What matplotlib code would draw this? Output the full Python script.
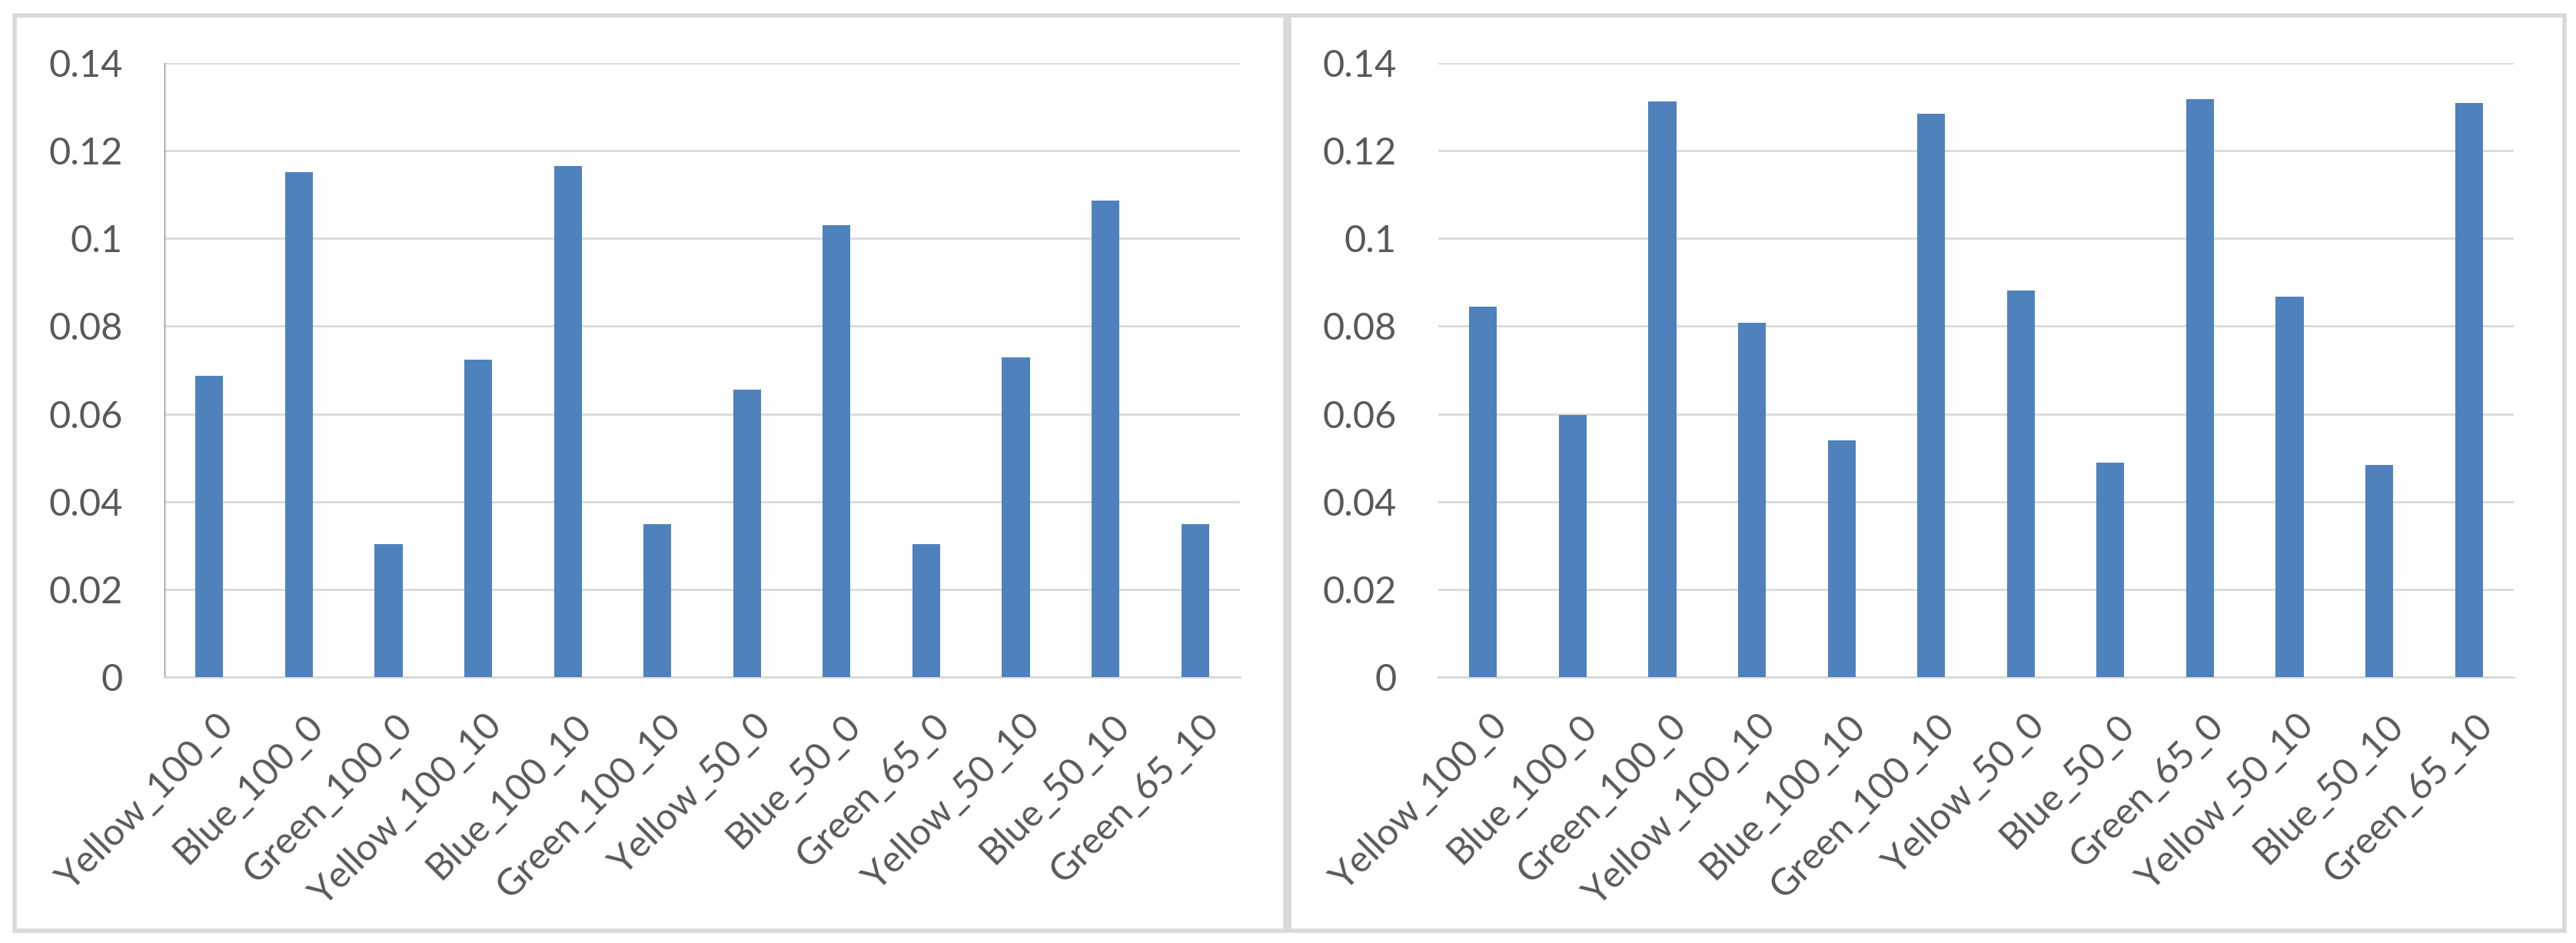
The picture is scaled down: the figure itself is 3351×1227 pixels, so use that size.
import matplotlib
matplotlib.use("Agg")
import matplotlib.pyplot as plt
import matplotlib.transforms as mtransforms
from matplotlib.patches import Rectangle

categories_left = ["Yellow_100_0", "Blue_100_0", "Green_100_0", "Yellow_100_10",
                   "Blue_100_10", "Green_100_10", "Yellow_50_0", "Blue_50_0",
                   "Green_65_0", "Yellow_50_10", "Blue_50_10", "Green_65_10"]
values_left = [0.0687, 0.1151, 0.0303, 0.0724, 0.1165, 0.0349,
               0.0655, 0.1031, 0.0303, 0.0729, 0.1086, 0.0349]

categories_right = ["Yellow_100_0", "Blue_100_0", "Green_100_0", "Yellow_100_10",
                    "Blue_100_10", "Green_100_10", "Yellow_50_0", "Blue_50_0",
                    "Green_65_0", "Yellow_50_10", "Blue_50_10", "Green_65_10"]
values_right = [0.0845, 0.0598, 0.1313, 0.0808, 0.0540, 0.1285,
                0.0882, 0.0488, 0.1318, 0.0868, 0.0484, 0.1309]

y_ticks = [0, 0.02, 0.04, 0.06, 0.08, 0.1, 0.12, 0.14]
y_tick_labels = ["0", "0.02", "0.04", "0.06", "0.08", "0.1", "0.12", "0.14"]

W, H = 3351, 1227
DPI = 100
plt.rcParams['font.family'] = ['Lato', 'DejaVu Sans']
TEXT = "#595959"
GRID = "#D9D9D9"
BAR = "#4F81BD"

fig = plt.figure(figsize=(W / DPI, H / DPI), dpi=DPI)

# panel borders
for (x0, x1) in [(19, 1672), (1677, 3336)]:
    fig.patches.append(Rectangle((x0 / W, 1 - 1211 / H), (x1 - x0) / W, (1211 - 20) / H,
                                 transform=fig.transFigure, fill=False,
                                 edgecolor=GRID, linewidth=4.0, zorder=0))

def make_panel(x_left, x_right, cats, vals, show_yaxis):
    ax = fig.add_axes([x_left / W, 1 - 881 / H, (x_right - x_left) / W, (881 - 82) / H])
    x = list(range(len(cats)))
    ax.bar(x, vals, width=0.31, color=BAR, zorder=3)
    ax.set_xlim(-0.5, len(cats) - 0.5)
    ax.set_ylim(0, 0.14)
    ax.set_yticks(y_ticks)
    ax.set_yticklabels(y_tick_labels)
    ax.yaxis.grid(True, color=GRID, linewidth=2.0, zorder=0)
    ax.set_axisbelow(True)
    for s in ["top", "right"]:
        ax.spines[s].set_visible(False)
    ax.spines["bottom"].set_color(GRID)
    ax.spines["bottom"].set_linewidth(2.0)
    if show_yaxis:
        ax.spines["left"].set_color("#8C8C8C")
        ax.spines["left"].set_linewidth(1.0)
    else:
        ax.spines["left"].set_visible(False)
    ax.tick_params(axis="y", length=0, pad=39, labelsize=35, labelcolor=TEXT)
    ax.tick_params(axis="x", length=0, pad=29, labelsize=35, labelcolor=TEXT)
    ax.set_xticks(x)
    ax.set_xticklabels(cats, rotation=45, ha="right", va="top", rotation_mode="anchor")
    offset = mtransforms.ScaledTranslation(8 / DPI, 0, fig.dpi_scale_trans)
    for lbl in ax.get_xticklabels():
        lbl.set_transform(lbl.get_transform() + offset)
    return ax

make_panel(214, 1613, categories_left, values_left, True)
make_panel(1871, 3270, categories_right, values_right, False)

fig.savefig("out.png", dpi=DPI)
